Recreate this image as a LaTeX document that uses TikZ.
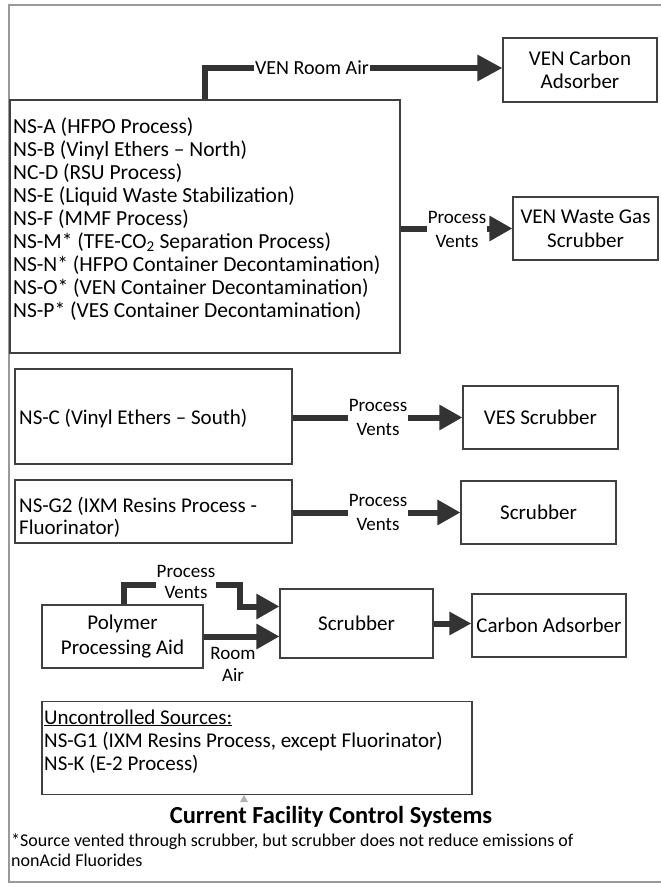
\documentclass[tikz,border=0pt]{standalone}
\usepackage{fontspec}
\setmainfont{Carlito}
\usetikzlibrary{arrows.meta,calc}
\begin{document}
\begin{tikzpicture}[x=1pt,y=-1pt,
 box/.style={draw=black!75, line width=1.1pt, rectangle, inner sep=0pt},
 txt/.style={font=\fontsize{21}{23}\selectfont, inner sep=0pt, align=left},
 ctxt/.style={font=\fontsize{21}{24}\selectfont, align=center},
 flow/.style={draw=black!80, line width=6pt, -{Triangle[length=23pt,width=24pt]}},
 lbl/.style={font=\fontsize{19}{24}\selectfont, fill=white, inner sep=1pt, align=center},
]
\useasboundingbox (0,0) rectangle (661,887);
% outer frame
\draw[black!40, line width=1.3pt] (662,5) -- (9,5) -- (9,882) -- (662,882);

% boxes
\node[box, minimum width=390, minimum height=253] (A) at (205,226.5) {};
\node[txt, font=\fontsize{21.5}{23}\selectfont, anchor=base west] (Atext) at (13,317) {NS-A (HFPO Process)\\NS-B (Vinyl Ethers – North)\\NC-D (RSU Process)\\NS-E (Liquid Waste Stabilization)\\NS-F (MMF Process)\\NS-M* (TFE-CO\textsubscript{2} Separation Process)\\NS-N* (HFPO Container Decontamination)\\NS-O* (VEN Container Decontamination)\\NS-P* (VES Container Decontamination)};

\node[box, ctxt, font=\fontsize{21}{23}\selectfont, minimum width=154, minimum height=64] (VENCA) at (580,70) {VEN Carbon\\Adsorber};
\node[box, ctxt, minimum width=145, minimum height=63] (WG) at (585.5,228.5) {VEN Waste Gas\\Scrubber};

\node[box, minimum width=277, minimum height=95] (NSC) at (153.5,416.5) {};
\node[txt, anchor=base west] (NSCtext) at (19,424) {NS-C (Vinyl Ethers – South)};
\node[box, ctxt, minimum width=155, minimum height=63] (VES) at (540.5,417.5) {VES Scrubber};

\node[box, minimum width=277, minimum height=63] (G2) at (153.5,511.5) {};
\node[txt, font=\fontsize{21}{22}\selectfont, anchor=base west] (G2text) at (19,534) {NS-G2 (IXM Resins Process -\\Fluorinator)};
\node[box, ctxt, minimum width=155, minimum height=63] (S2) at (538.5,512.5) {Scrubber};

\node[box, ctxt, font=\fontsize{21}{25}\selectfont, minimum width=161, minimum height=63] (PPA) at (122.5,636.5) {Polymer\\Processing Aid};
\node[box, ctxt, minimum width=153, minimum height=69] (S3) at (356.5,623.5) {Scrubber};
\node[box, ctxt, minimum width=154, minimum height=63] (CA) at (549,625.5) {Carbon Adsorber};

\node[box, minimum width=430, minimum height=93] (UN) at (257,748) {};
\node[txt, anchor=base west] (UNtext) at (44,770) {\underline{Uncontrolled Sources:}\\NS-G1 (IXM Resins Process, except Fluorinator)\\NS-K (E-2 Process)};

% connectors
\coordinate (r1) at (205,68);
\draw[flow, -{Triangle[length=25pt,width=25pt]}] (A.north -| r1) -- (r1) -- (r1 -| VENCA.west);
\node[lbl, font=\fontsize{20}{24}\selectfont] (l1) at (312,68) {VEN Room Air};

\draw[flow] (A.east |- WG.west) -- (WG.west);
\node[lbl] (l2) at (457,229) {Process\\Vents};

\draw[flow] (NSC.east |- VES.west) -- (VES.west);
\node[lbl] (l3) at (378,417.5) {Process\\Vents};

\draw[flow] (G2.east |- S2.west) -- (S2.west);
\node[lbl] (l4) at (378,512.5) {Process\\Vents};

\coordinate (p1) at (124,585);
\coordinate (p2) at (240,585);
\draw[flow] (PPA.north -| p1) -- (p1) -- (p2) |- ($(S3.west)+(0,-17)$);
\node[lbl, font=\fontsize{19}{21}\selectfont] (l5) at (186,582) {Process\\Vents};

\draw[flow] (PPA.east) -- (PPA.east -| S3.west);
\node[lbl, fill=none, font=\fontsize{19}{22}\selectfont] (l6) at (233,664) {Room\\Air};

\draw[flow, -{Triangle[length=22pt,width=22pt]}] (S3.east) -- (S3.east -| CA.west);

% small mark
\fill[black!30] (240,802) -- (248,802) -- (244,795) -- cycle;

\node[font=\bfseries\fontsize{24.5}{26}\selectfont] (title) at (331,817) {Current Facility Control Systems};
\node[anchor=base west, align=left, inner sep=0pt, font=\fontsize{18}{20}\selectfont] (fn) at (11,866) {*Source vented through scrubber, but scrubber does not reduce emissions of\\nonAcid Fluorides};
\end{tikzpicture}
\end{document}
